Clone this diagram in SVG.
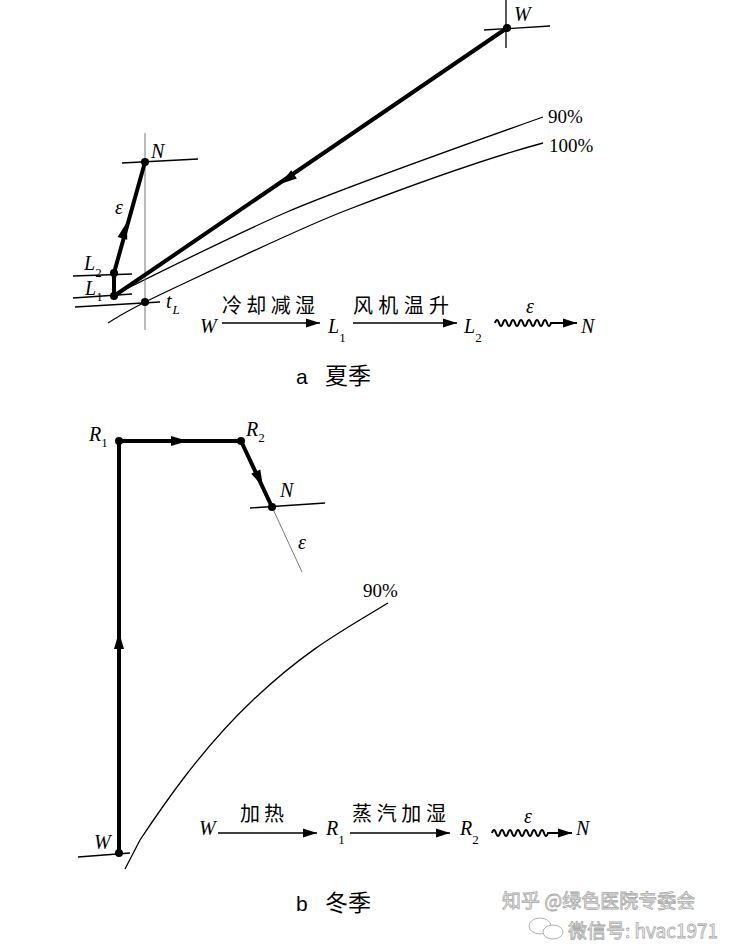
<svg xmlns="http://www.w3.org/2000/svg" width="745" height="944" viewBox="0 0 745 944">
<style>
.thin{fill:none;stroke:#000;stroke-width:1.3}
.gray{fill:none;stroke:#777;stroke-width:1}
.thick{fill:none;stroke:#000;stroke-width:4;stroke-linecap:round;stroke-linejoin:round}
.pt{fill:#000}
.ah{fill:#000}
.lab{font-family:"Liberation Serif",serif;font-style:italic;font-size:20px;fill:#000}
.sub{font-family:"Liberation Serif",serif;font-style:normal;font-size:13px;fill:#000}
.num{font-family:"Liberation Serif",serif;font-size:19px;fill:#000}
.cn{font-family:"Noto Sans CJK SC","Liberation Sans",sans-serif;font-size:20px;fill:#000}
.cap{font-family:"Noto Sans CJK SC","Liberation Sans",sans-serif;font-size:23px;fill:#000}
.wm{font-family:"Noto Sans CJK SC","Liberation Sans",sans-serif;font-size:19px;fill:#fff;stroke:#a8a8a8;stroke-width:0.8}
.parr{fill:none;stroke:#000;stroke-width:1.6}
.wave{fill:none;stroke:#000;stroke-width:2}
</style>
<defs>
<marker id="pa" markerWidth="16" markerHeight="10" refX="14" refY="5" orient="auto" markerUnits="userSpaceOnUse">
<path d="M0,0.5 L14,5 L0,9.5 Z" fill="#000"/>
</marker>
<path id="mid" d="M0,0 L-17,-5 L-17,5 Z"/>
</defs>

<!-- ===== a: summer ===== -->
<g id="curves-a">
<path class="thin" d="M116,294 C180,262 250,228 287,212 S450,150 543,117"/>
<path class="thin" d="M108,323 C125,312 140,304 170,290 S300,228 347,210 S480,160 543,143"/>
<text class="num" x="548" y="123">90%</text>
<text class="num" x="549" y="152">100%</text>
</g>

<g id="connectors-a">
<line class="gray" x1="145" y1="133" x2="145" y2="330"/>
<path class="thick" d="M507,28 L114,296"/>
<path class="thick" d="M114,296 L114,273 L145,162"/>
<use href="#mid" class="ah" transform="translate(280,184) rotate(145.7)"/>
<use href="#mid" class="ah" transform="translate(127,222) rotate(-74.4)"/>
</g>

<g id="node-W-a">
<line class="thin" x1="484" y1="30" x2="550" y2="26"/>
<line class="thin" x1="506" y1="0" x2="506" y2="48"/>
<circle class="pt" cx="507" cy="28" r="4"/>
<text class="lab" x="514" y="21" font-size="17">W</text>
</g>

<g id="node-N-a">
<line class="thin" x1="122" y1="163" x2="198" y2="159"/>
<circle class="pt" cx="145" cy="162" r="4"/>
<text class="lab" x="151" y="158" font-size="17">N</text>
<text class="lab" x="115" y="214" font-size="17">ε</text>
</g>

<g id="node-L2">
<line class="thin" x1="73" y1="276" x2="132" y2="274"/>
<circle class="pt" cx="114" cy="273" r="4"/>
<text class="lab" x="84" y="270">L<tspan class="sub" dy="7">2</tspan></text>
</g>

<g id="node-L1">
<line class="thin" x1="73" y1="298" x2="132" y2="294"/>
<circle class="pt" cx="114" cy="296" r="4"/>
<text class="lab" x="85" y="295">L<tspan class="sub" dy="6">1</tspan></text>
</g>

<g id="node-tL">
<line class="thin" x1="75" y1="307" x2="160" y2="302"/>
<circle class="pt" cx="145" cy="302" r="4"/>
<text class="lab" x="166" y="308">t<tspan font-size="13" dx="1" dy="6">L</tspan></text>
</g>

<g id="process-a">
<text class="lab" x="200" y="333">W</text>
<line class="parr" x1="222" y1="323" x2="320" y2="323" marker-end="url(#pa)"/>
<text class="cn" x="222" y="313" textLength="93" lengthAdjust="spacing">冷却减湿</text>
<text class="lab" x="328" y="333">L<tspan class="sub" dy="9">1</tspan></text>
<line class="parr" x1="353" y1="323" x2="457" y2="323" marker-end="url(#pa)"/>
<text class="cn" x="353" y="313" textLength="96" lengthAdjust="spacing">风机温升</text>
<text class="lab" x="464" y="333">L<tspan class="sub" dy="9">2</tspan></text>
<path class="wave" d="M495,323 q2,-6 4,0 t4,0 t4,0 t4,0 t4,0 t4,0 t4,0 t4,0 t4,0 t4,0 t4,0 t4,0 t4,0 t4,0 L577,323" marker-end="url(#pa)"/>
<text class="lab" x="526" y="313" font-size="17">ε</text>
<text class="lab" x="581" y="333">N</text>
</g>

<g id="caption-a">
<text x="296" y="384" font-family="Liberation Sans, sans-serif" font-size="21">a</text>
<text class="cap" x="325" y="384">夏季</text>
</g>

<!-- ===== b: winter ===== -->
<g id="curves-b">
<path class="thin" d="M125,869 L140,840 C160,810 200,750 253,700 S340,632 388,603"/>
<text class="num" x="363" y="597">90%</text>
</g>

<g id="connectors-b">
<line class="gray" x1="272" y1="507" x2="302" y2="572"/>
<path class="thick" d="M119,853 L119,441 L241,441 L272,507"/>
<use href="#mid" class="ah" transform="translate(119,632) rotate(-90)"/>
<use href="#mid" class="ah" transform="translate(188,441)"/>
<use href="#mid" class="ah" transform="translate(263,487) rotate(64.8)"/>
</g>

<g id="node-R1">
<circle class="pt" cx="119" cy="441" r="4"/>
<text class="lab" x="89" y="441">R<tspan class="sub" dy="6">1</tspan></text>
</g>

<g id="node-R2">
<circle class="pt" cx="241" cy="441" r="4"/>
<text class="lab" x="246" y="436">R<tspan class="sub" dy="6">2</tspan></text>
</g>

<g id="node-N-b">
<line class="thin" x1="250" y1="508" x2="325" y2="503"/>
<circle class="pt" cx="272" cy="507" r="4"/>
<text class="lab" x="280" y="497">N</text>
<text class="lab" x="298" y="549" font-size="17">ε</text>
</g>

<g id="node-W-b">
<line class="thin" x1="78" y1="857" x2="130" y2="853"/>
<circle class="pt" cx="119" cy="853" r="4"/>
<text class="lab" x="94" y="849">W</text>
</g>

<g id="process-b">
<text class="lab" x="199" y="835">W</text>
<line class="parr" x1="218" y1="833" x2="317" y2="833" marker-end="url(#pa)"/>
<text class="cn" x="240" y="821" textLength="44" lengthAdjust="spacing">加热</text>
<text class="lab" x="326" y="835">R<tspan class="sub" dy="9">1</tspan></text>
<line class="parr" x1="350" y1="833" x2="450" y2="833" marker-end="url(#pa)"/>
<text class="cn" x="352" y="821" textLength="94" lengthAdjust="spacing">蒸汽加湿</text>
<text class="lab" x="460" y="835">R<tspan class="sub" dy="9">2</tspan></text>
<path class="wave" d="M492,833 q2,-6 4,0 t4,0 t4,0 t4,0 t4,0 t4,0 t4,0 t4,0 t4,0 t4,0 t4,0 t4,0 t4,0 t4,0 L572,833" marker-end="url(#pa)"/>
<text class="lab" x="524" y="823" font-size="17">ε</text>
<text class="lab" x="576" y="835">N</text>
</g>

<g id="caption-b">
<text x="296" y="911" font-family="Liberation Sans, sans-serif" font-size="21">b</text>
<text class="cap" x="325" y="911">冬季</text>
</g>

<!-- watermark -->
<g id="watermark">
<text class="wm" x="502" y="908">知乎 @绿色医院专委会</text>
<ellipse cx="540" cy="926" rx="11" ry="8" fill="#fff" stroke="#a8a8a8" stroke-width="0.9"/>
<ellipse cx="553" cy="932" rx="10" ry="7" fill="#fff" stroke="#a8a8a8" stroke-width="0.9"/>
<text class="wm" x="568" y="938">微信号: hvac1971</text>
</g>
</svg>
